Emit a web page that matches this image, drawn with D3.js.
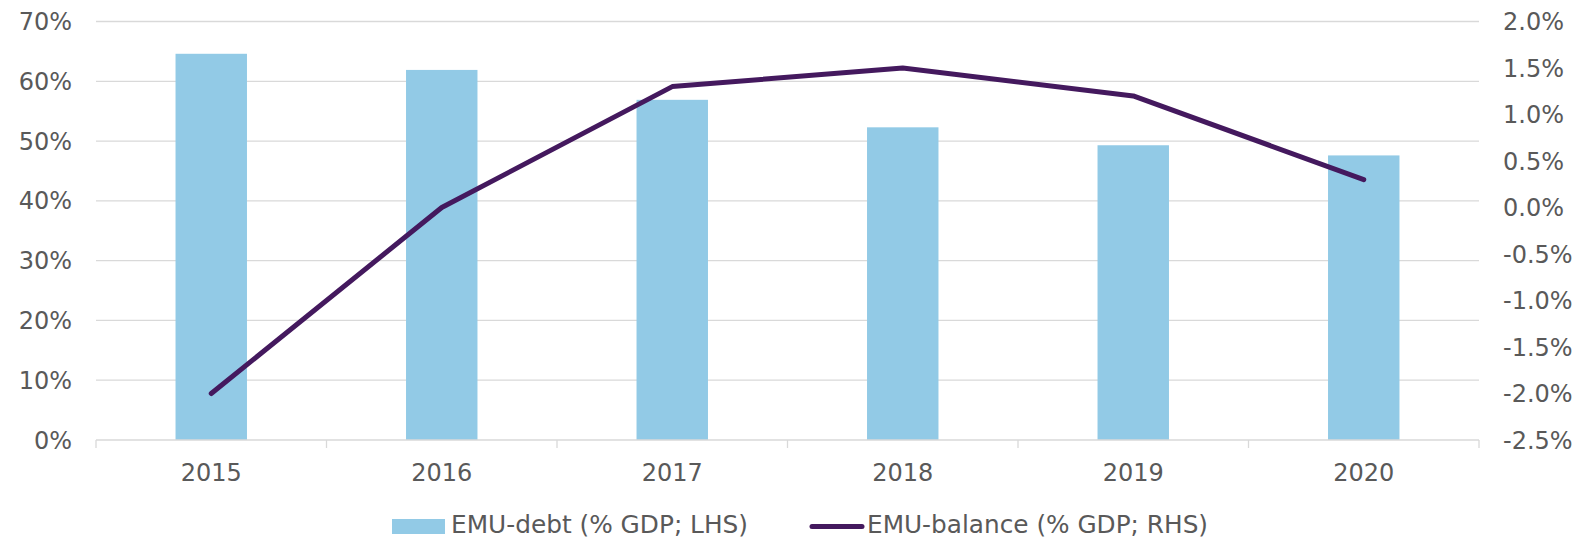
<!DOCTYPE html>
<html>
<head>
<meta charset="utf-8">
<script src="https://cdn.jsdelivr.net/npm/d3@7"></script>
<style>
  body { margin: 0; background: #fff; }
  text { font-family: "DejaVu Sans", Verdana, sans-serif; fill: #595959; }
</style>
</head>
<body>
<div id="chart"></div>
<script>
// data
var years = ["2015", "2016", "2017", "2018", "2019", "2020"];
var debt = [64.6, 61.9, 56.9, 52.3, 49.3, 47.6];
var balance = [-2.0, 0.0, 1.3, 1.5, 1.2, 0.3];
var leftTicks = [0, 10, 20, 30, 40, 50, 60, 70];
var rightTicks = [-2.5, -2.0, -1.5, -1.0, -0.5, 0.0, 0.5, 1.0, 1.5, 2.0];
var legendLabels = ["EMU-debt (% GDP; LHS)", "EMU-balance (% GDP; RHS)"];

const WIDTH = 1581,
  HEIGHT = 539,
  PLOT_LEFT = 96,
  PLOT_RIGHT = 1479,
  PLOT_TOP = 21.5,
  PLOT_BOTTOM = 440,
  BAR_COLOR = "#92cae6",
  LINE_COLOR = "#44195e",
  GRID_COLOR = "#d9d9d9",
  FONT_SIZE = 24;

var svg = d3
  .select("#chart")
  .append("svg")
  .attr("width", WIDTH)
  .attr("height", HEIGHT);

var x = d3
  .scaleBand()
  .domain(years)
  .range([PLOT_LEFT, PLOT_RIGHT])
  .paddingInner(0.69)
  .paddingOuter(0.345);

var yLeft = d3.scaleLinear().domain([0, 70]).range([PLOT_BOTTOM, PLOT_TOP]);
var yRight = d3.scaleLinear().domain([-2.5, 2.0]).range([PLOT_BOTTOM, PLOT_TOP]);

// excel style labels use a plain hyphen for negatives
function pct1(d) {
  return d3.format(".1f")(d).replace("\u2212", "-") + "%";
}

// horizontal grid lines
svg
  .append("g")
  .selectAll("line")
  .data(leftTicks.slice(1))
  .enter()
  .append("line")
  .attr("x1", PLOT_LEFT)
  .attr("x2", PLOT_RIGHT)
  .attr("y1", function(d) { return yLeft(d); })
  .attr("y2", function(d) { return yLeft(d); })
  .style("stroke", GRID_COLOR)
  .style("stroke-width", 1.3);

// bars
svg
  .append("g")
  .selectAll("rect")
  .data(debt)
  .enter()
  .append("rect")
  .attr("x", function(d, i) { return x(years[i]); })
  .attr("width", x.bandwidth())
  .attr("y", function(d) { return yLeft(d); })
  .attr("height", function(d) { return PLOT_BOTTOM - yLeft(d); })
  .style("fill", BAR_COLOR);

// bottom axis line with category boundary ticks
var axisGroup = svg.append("g");
axisGroup
  .append("line")
  .attr("x1", PLOT_LEFT)
  .attr("x2", PLOT_RIGHT)
  .attr("y1", PLOT_BOTTOM)
  .attr("y2", PLOT_BOTTOM)
  .style("stroke", GRID_COLOR)
  .style("stroke-width", 1.3);

var step = x.step();
axisGroup
  .selectAll(".tick")
  .data(d3.range(years.length + 1))
  .enter()
  .append("line")
  .attr("class", "tick")
  .attr("x1", function(i) { return PLOT_LEFT + i * step; })
  .attr("x2", function(i) { return PLOT_LEFT + i * step; })
  .attr("y1", PLOT_BOTTOM)
  .attr("y2", PLOT_BOTTOM + 8)
  .style("stroke", GRID_COLOR)
  .style("stroke-width", 1.3);

axisGroup
  .selectAll(".xlabel")
  .data(years)
  .enter()
  .append("text")
  .attr("class", "xlabel")
  .attr("x", function(d) { return x(d) + x.bandwidth() / 2; })
  .attr("y", 481)
  .attr("text-anchor", "middle")
  .style("font-size", FONT_SIZE + "px")
  .text(function(d) { return d; });

// left axis labels
svg
  .append("g")
  .selectAll("text")
  .data(leftTicks)
  .enter()
  .append("text")
  .attr("x", 72)
  .attr("y", function(d) { return yLeft(d); })
  .attr("dy", "0.36em")
  .attr("text-anchor", "end")
  .style("font-size", FONT_SIZE + "px")
  .text(function(d) { return d + "%"; });

// right axis labels
svg
  .append("g")
  .selectAll("text")
  .data(rightTicks)
  .enter()
  .append("text")
  .attr("x", 1503)
  .attr("y", function(d) { return yRight(d); })
  .attr("dy", "0.36em")
  .attr("text-anchor", "start")
  .style("font-size", FONT_SIZE + "px")
  .text(pct1);

// balance line
var line = d3
  .line()
  .x(function(d, i) { return x(years[i]) + x.bandwidth() / 2; })
  .y(function(d) { return yRight(d); });

svg
  .append("path")
  .datum(balance)
  .attr("d", line)
  .style("fill", "none")
  .style("stroke", LINE_COLOR)
  .style("stroke-width", 5)
  .style("stroke-linecap", "round")
  .style("stroke-linejoin", "round");

// legend
var legend = svg.append("g");
legend
  .append("rect")
  .attr("x", 392)
  .attr("y", 519)
  .attr("width", 53)
  .attr("height", 15)
  .style("fill", BAR_COLOR);
legend
  .append("text")
  .attr("x", 451)
  .attr("y", 533)
  .attr("textLength", 297)
  .attr("lengthAdjust", "spacingAndGlyphs")
  .style("font-size", "25px")
  .text(legendLabels[0]);
legend
  .append("line")
  .attr("x1", 812)
  .attr("x2", 862)
  .attr("y1", 526.5)
  .attr("y2", 526.5)
  .style("stroke", LINE_COLOR)
  .style("stroke-width", 5)
  .style("stroke-linecap", "round");
legend
  .append("text")
  .attr("x", 867)
  .attr("y", 533)
  .attr("textLength", 341)
  .attr("lengthAdjust", "spacingAndGlyphs")
  .style("font-size", "25px")
  .text(legendLabels[1]);
</script>
</body>
</html>
